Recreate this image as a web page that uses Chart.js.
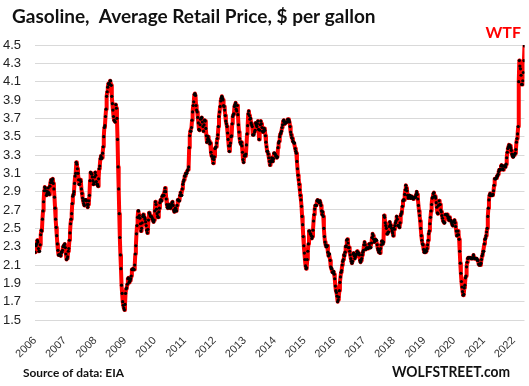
<!DOCTYPE html>
<html><head><meta charset="utf-8">
<script src="https://cdn.jsdelivr.net/npm/chart.js@4"></script>
<style>html,body{margin:0;padding:0;background:#fff}canvas{display:block}</style>
</head><body>
<canvas id="c" width="529" height="386"></canvas>
<script>
// Weekly average retail gasoline price, $ per gallon (one array per year)
const years = [2006,2007,2008,2009,2010,2011,2012,2013,2014,2015,2016,2017,2018,2019,2020,2021,2022];
const p2006 = [2.24,2.32,2.31,2.33,2.37, 2.35,2.28,2.25,2.25, 2.32,2.43,2.48,2.47, 2.60,2.69,2.79,2.91, 2.95,2.94,2.91,2.86,2.88, 2.90,2.94,2.89,2.87, 2.96,3.00,3.03,3.00,3.02, 3.04,2.99,2.93,2.84, 2.72,2.60,2.51,2.42, 2.33,2.26,2.21,2.21,2.21, 2.21,2.20,2.24,2.24, 2.26,2.30,2.31,2.32];
const p2007 = [2.33,2.29,2.22,2.16,2.17, 2.19,2.25,2.28,2.37, 2.45,2.55,2.60,2.66, 2.77,2.85,2.87,2.90,2.99, 3.07,3.10,3.22,3.20, 3.15,3.10,3.03,2.98, 2.98,3.03,3.01,2.93,2.88, 2.83,2.80,2.77,2.75, 2.81,2.81,2.81,2.80, 2.76,2.73,2.76,2.80,2.86, 3.02,3.11,3.10,3.09, 3.06,3.02,2.98,3.00,3.06];
const p2008 = [3.11,3.08,3.01,2.98, 2.98,2.96,3.04,3.15, 3.18,3.26,3.29,3.26,3.27, 3.32,3.39,3.50,3.60, 3.62,3.72,3.80,3.94, 3.99,4.04,4.08,4.07,4.08, 4.11,4.11,4.06,3.94, 3.86,3.79,3.72,3.68, 3.67,3.66,3.85,3.81,3.70, 3.47,3.17,2.93,2.66, 2.40,2.21,2.06,1.88, 1.79,1.70,1.66,1.63,1.61];
const p2009 = [1.67,1.79,1.84,1.85, 1.89,1.95,1.96,1.91, 1.92,1.93,1.95,1.98,2.05, 2.05,2.06,2.05,2.05, 2.10,2.22,2.31,2.44, 2.53,2.62,2.69,2.69,2.64, 2.61,2.55,2.47,2.50, 2.56,2.63,2.65,2.63,2.62, 2.60,2.57,2.53,2.48, 2.45,2.49,2.59,2.67, 2.66,2.64,2.63,2.63,2.62, 2.60,2.58,2.57,2.59];
const p2010 = [2.69,2.79,2.76,2.71, 2.66,2.63,2.62,2.68, 2.72,2.78,2.81,2.81,2.80, 2.85,2.86,2.86,2.86, 2.90,2.94,2.90,2.82,2.76, 2.73,2.72,2.74,2.76, 2.74,2.72,2.73,2.76, 2.78,2.79,2.75,2.70,2.68, 2.69,2.72,2.71,2.69, 2.75,2.81,2.81,2.80, 2.80,2.86,2.89,2.86,2.86, 2.93,2.98,3.01,3.03];
const p2011 = [3.07,3.07,3.10,3.10,3.10, 3.13,3.14,3.17,3.38, 3.51,3.56,3.56,3.60, 3.68,3.77,3.84,3.88, 3.96,3.97,3.95,3.84,3.79, 3.77,3.71,3.65,3.58, 3.57,3.63,3.69,3.70, 3.71,3.66,3.61,3.56,3.63, 3.68,3.67,3.59,3.51, 3.44,3.47,3.50,3.47,3.45, 3.42,3.43,3.33,3.29, 3.29,3.26,3.21,3.25];
const p2012 = [3.28,3.37,3.38,3.39,3.43, 3.48,3.52,3.61,3.72, 3.77,3.83,3.89,3.92, 3.94,3.92,3.90,3.84,3.83, 3.79,3.73,3.67,3.64, 3.61,3.54,3.47,3.40, 3.34,3.40,3.43,3.50,3.51, 3.64,3.72,3.74,3.75, 3.83,3.85,3.87,3.80, 3.78,3.84,3.74,3.63,3.55, 3.48,3.44,3.42,3.44, 3.40,3.33,3.25,3.22,3.29];
const p2013 = [3.30,3.29,3.31,3.41, 3.53,3.62,3.75,3.78, 3.73,3.69,3.70,3.65, 3.63,3.61,3.52,3.52,3.52, 3.55,3.57,3.65,3.63, 3.61,3.64,3.67,3.58, 3.47,3.57,3.63,3.67,3.64, 3.60,3.56,3.55,3.56, 3.59,3.57,3.51,3.44,3.39, 3.34,3.34,3.31,3.27, 3.23,3.19,3.22,3.24, 3.27,3.24,3.23,3.26,3.32];
const p2014 = [3.32,3.31,3.29,3.29, 3.27,3.28,3.38,3.43, 3.45,3.50,3.53,3.54,3.56, 3.60,3.63,3.67,3.68, 3.66,3.64,3.65,3.66, 3.66,3.66,3.69,3.69,3.68, 3.66,3.61,3.55,3.52, 3.49,3.48,3.45,3.44, 3.43,3.43,3.37,3.34,3.32, 3.23,3.15,3.08,3.03, 2.98,2.92,2.86,2.81, 2.74,2.63,2.54,2.41,2.31];
const p2015 = [2.23,2.16,2.09,2.06, 2.07,2.16,2.25,2.33, 2.47,2.47,2.44,2.44,2.42, 2.39,2.41,2.48,2.58, 2.65,2.71,2.75,2.75, 2.75,2.80,2.81,2.80,2.79, 2.78,2.80,2.78,2.75, 2.69,2.65,2.68,2.63,2.50, 2.41,2.35,2.32,2.30, 2.30,2.31,2.24,2.20, 2.22,2.22,2.15,2.08,2.06, 2.06,2.02,2.02,2.03];
const p2016 = [2.00,1.95,1.87,1.82, 1.80,1.76,1.70,1.72,1.75, 1.82,1.91,1.97,2.02, 2.04,2.10,2.14,2.16, 2.21,2.20,2.24,2.30,2.31, 2.37,2.38,2.34,2.29, 2.29,2.25,2.21,2.17, 2.14,2.12,2.14,2.22,2.23, 2.20,2.17,2.19,2.21, 2.22,2.25,2.24,2.22,2.23, 2.21,2.15,2.13,2.15, 2.17,2.21,2.24,2.26];
const p2017 = [2.32,2.35,2.32,2.27,2.28, 2.29,2.28,2.28,2.29, 2.33,2.30,2.29,2.29, 2.34,2.40,2.44,2.42, 2.38,2.35,2.36,2.38,2.37, 2.37,2.32,2.28,2.26, 2.24,2.26,2.23,2.28,2.32, 2.36,2.36,2.33,2.35, 2.64,2.62,2.56,2.53, 2.50,2.44,2.44,2.46,2.46, 2.52,2.57,2.54,2.53, 2.50,2.47,2.45,2.42];
const p2018 = [2.50,2.49,2.53,2.56,2.58, 2.63,2.60,2.53,2.53, 2.53,2.51,2.56,2.64, 2.66,2.68,2.74,2.80,2.81, 2.81,2.87,2.92,2.97, 2.94,2.91,2.86,2.83, 2.84,2.86,2.86,2.83,2.83, 2.85,2.84,2.83,2.82, 2.83,2.84,2.84,2.84, 2.87,2.90,2.87,2.82,2.75, 2.69,2.64,2.58,2.50, 2.42,2.37,2.33,2.32,2.27];
const p2019 = [2.24,2.24,2.24,2.26, 2.25,2.28,2.32,2.37, 2.44,2.47,2.55,2.62, 2.69,2.76,2.83,2.84,2.88, 2.89,2.85,2.85,2.83, 2.78,2.73,2.67,2.66, 2.75,2.80,2.76,2.76,2.70, 2.68,2.64,2.61,2.58, 2.57,2.56,2.56,2.65,2.65, 2.65,2.65,2.63,2.61, 2.59,2.62,2.59,2.59, 2.58,2.56,2.54,2.53,2.57];
const p2020 = [2.58,2.59,2.56,2.52, 2.47,2.42,2.43,2.47, 2.43,2.38,2.25,2.12,2.01, 1.92,1.86,1.81,1.77, 1.78,1.85,1.88,1.96, 1.98,2.08,2.13,2.17,2.18, 2.18,2.18,2.18,2.18, 2.17,2.17,2.17,2.18,2.21, 2.18,2.17,2.17,2.17, 2.17,2.17,2.15,2.15, 2.11,2.10,2.11,2.10,2.12, 2.16,2.20,2.22,2.25];
const p2021 = [2.25,2.33,2.38,2.39, 2.42,2.46,2.50,2.63, 2.72,2.81,2.86,2.88,2.86, 2.86,2.86,2.86,2.87, 2.91,2.97,3.04,3.04,3.04, 3.05,3.07,3.07,3.09, 3.12,3.14,3.14,3.14, 3.18,3.19,3.18,3.15,3.14, 3.18,3.18,3.18,3.17, 3.20,3.27,3.33,3.37, 3.39,3.41,3.40,3.40,3.38, 3.35,3.31,3.29,3.28];
const p2022 = [3.28,3.30,3.31,3.32,3.36, 3.44,3.48,3.53,3.61, 4.10,4.33,4.27,4.24, 4.17,4.07,4.07,4.11, 4.20,4.33,4.49];
const yearSeries = [p2006,p2007,p2008,p2009,p2010,p2011,p2012,p2013,p2014,p2015,p2016,p2017,p2018,p2019,p2020,p2021,p2022];
const yTicks = [1.5,1.7,1.9,2.1,2.3,2.5,2.7,2.9,3.1,3.3,3.5,3.7,3.9,4.1,4.3,4.5];

const titleText = "Gasoline,  Average Retail Price, $ per gallon";
const noteText = "WTF";
const sourceText = "Source of data: EIA";
const brandText = "WOLFSTREET.com";

// build points: x = week number, y = price
const points = [];
const yearStart = [];
let n = 0;
yearSeries.forEach(arr => { yearStart.push(n); arr.forEach(v => { points.push({x: n, y: v}); n++; }); });
const lastIdx = n - 1;

const textPlugin = {
  id: 'texts',
  beforeDraw(chart) {
    const c = chart.ctx; c.save(); c.fillStyle = '#fff'; c.fillRect(0, 0, chart.width, chart.height); c.restore();
  },
  afterDraw(chart) {
    const c = chart.ctx;
    c.save();
    c.textBaseline = 'alphabetic';
    c.textAlign = 'left';
    c.fillStyle = '#111';
    c.font = 'bold 19px Lato';
    c.fillText(titleText, 12, 23, 370);
    c.fillStyle = '#ff0000';
    c.font = 'bold 16px Lato';
    c.textAlign = 'right';
    c.fillText(noteText, 521, 38);
    c.textAlign = 'left';
    c.fillStyle = '#111';
    c.font = 'bold 12px Lato';
    c.fillText(sourceText, 23, 377, 101);
    c.font = 'bold 15px Lato';
    c.fillText(brandText, 392, 377, 118);
    c.restore();
  }
};

new Chart(document.getElementById('c'), {
  type: 'line',
  data: { datasets: [{
    data: points,
    borderColor: '#ff0000',
    borderWidth: 4,
    borderJoinStyle: 'round',
    borderCapStyle: 'round',
    tension: 0,
    fill: false,
    pointRadius: 1.6,
    pointBackgroundColor: '#000',
    pointBorderWidth: 0,
    pointHoverRadius: 0
  }]},
  options: {
    responsive: false,
    animation: false,
    devicePixelRatio: 1,
    events: [],
    layout: { padding: { top: 45, right: 3, left: 0, bottom: 0 } },
    plugins: { legend: { display: false }, tooltip: { enabled: false }, title: { display: false } },
    scales: {
      x: {
        type: 'linear', min: 0, max: lastIdx,
        grid: { display: false }, border: { display: false },
        afterBuildTicks: s => { s.ticks = yearStart.map(v => ({ value: v })); },
        afterFit: s => { s.height = 66; },
        ticks: {
          autoSkip: false, minRotation: 45, maxRotation: 45, padding: 6,
          color: '#333', font: { family: 'Liberation Sans', size: 11 },
          callback: (v, i) => String(years[i])
        }
      },
      y: {
        min: 1.5, max: 4.5,
        afterBuildTicks: s => { s.ticks = yTicks.map(v => ({ value: v })); },
        afterFit: s => { s.width = 35; },
        grid: { color: '#d9d9d9', lineWidth: 1, drawTicks: false },
        border: { display: false },
        ticks: { autoSkip: false, padding: 14, color: '#222', font: { family: 'Liberation Sans', size: 13 }, callback: v => Number(v).toFixed(1) }
      }
    }
  },
  plugins: [textPlugin]
});
</script>
</body></html>
